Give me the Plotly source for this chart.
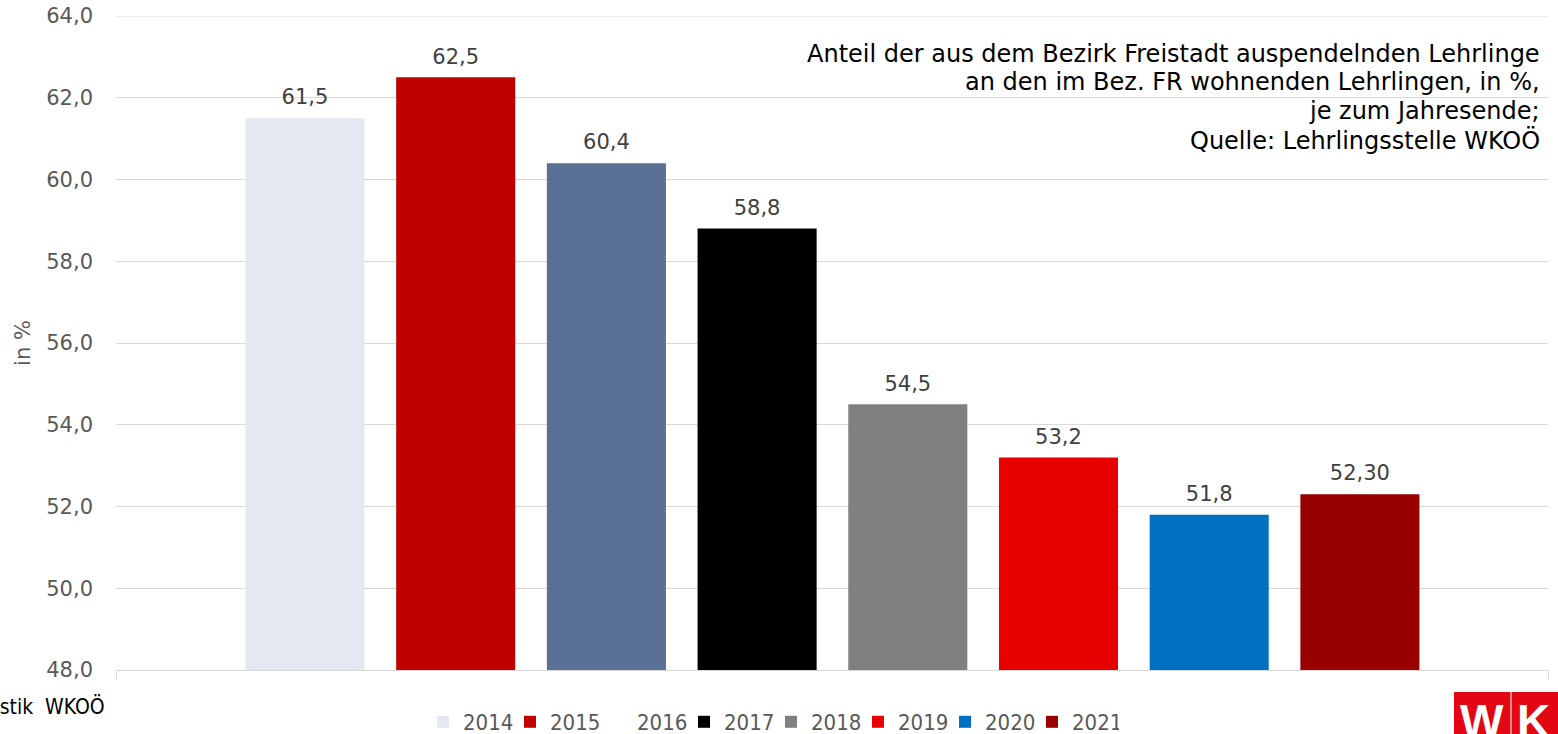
import plotly.graph_objects as go

# ---- data ----
years = ["2014", "2015", "2016", "2017", "2018", "2019", "2020", "2021"]
values = [61.5, 62.5, 60.4, 58.8, 54.5, 53.2, 51.8, 52.30]
labels = ["61,5", "62,5", "60,4", "58,8", "54,5", "53,2", "51,8", "52,30"]
colors = ["#E4E8F0", "#C00000", "#5A7094", "#000000", "#808080", "#E60000", "#0070C0", "#990000"]
legend_swatch = [True, True, False, True, True, True, True, True]
y_ticks = [48, 50, 52, 54, 56, 58, 60, 62, 64]
title_lines = [
    "Anteil der aus dem Bezirk Freistadt auspendelnden Lehrlinge",
    "an den im Bez. FR wohnenden Lehrlingen, in %,",
    "je zum Jahresende;",
    "Quelle: Lehrlingsstelle WKOÖ",
]

W, H = 1558, 734
# plot area in window pixels: x 116..1548, y 16..670
PL, PR, PT, PB = 116, 1548, 16, 670
ML, MR, MT, MB = PL, W - PR, PT, H - PB
PW = PR - PL
PH = PB - PT

def px_x(px):  # window pixel -> paper
    return (px - PL) / PW

def px_y(py):
    return (PB - py) / PH

FONT = "DejaVu Sans"
GREY = "#595959"
GRID = "#D9D9D9"
slots = list(range(len(years)))
SLOT_PX = 150.7
x_lo = -(305 - PL) / SLOT_PX
x_hi = x_lo + PW / SLOT_PX

fig = go.Figure()
for i, yr, v, col, sw in zip(slots, years, values, colors, legend_swatch):
    fig.add_trace(go.Bar(
        x=[i], y=[v], name=yr, width=0.79,
        marker=dict(color=col, line=dict(width=0)),
        showlegend=sw,
    ))
    if not sw:
        fig.add_trace(go.Scatter(
            x=[None], y=[None], name=yr, mode="markers",
            marker=dict(color="rgba(0,0,0,0)", symbol="square"),
            showlegend=True,
        ))

fig.add_trace(go.Scatter(
    x=slots, y=values, text=labels, mode="markers+text",
    textposition="top center", cliponaxis=False,
    marker=dict(size=12, color="rgba(0,0,0,0)"),
    textfont=dict(family=FONT, size=21, color="#404040"),
    showlegend=False, hoverinfo="skip",
))

annotations = []
for line, cy in zip(title_lines, [54, 82, 111, 140]):
    annotations.append(dict(
        text=line, xref="paper", yref="paper", x=px_x(1542), y=px_y(cy),
        xanchor="right", yanchor="middle", align="right", showarrow=False,
        font=dict(family=FONT, size=24, color="#000000"),
    ))
annotations += [
    dict(
        text="Statistik  WKOÖ",
        xref="paper", yref="paper", x=px_x(107), y=px_y(706),
        xanchor="right", yanchor="middle", showarrow=False,
        font=dict(family="DejaVu Sans Condensed, DejaVu Sans", size=21, color="#000000"),
    ),
    dict(
        text="<b>W</b>", xref="paper", yref="paper", x=px_x(1482), y=px_y(721),
        xanchor="center", yanchor="middle", showarrow=False,
        font=dict(family="Liberation Sans", size=46, color="white"),
    ),
    dict(
        text="<b>K</b>", xref="paper", yref="paper", x=px_x(1533), y=px_y(721),
        xanchor="center", yanchor="middle", showarrow=False,
        font=dict(family="Liberation Sans", size=46, color="white"),
    ),
]

fig.update_layout(
    width=W, height=H,
    margin=dict(l=ML, r=MR, t=MT, b=MB, autoexpand=False),
    paper_bgcolor="white", plot_bgcolor="white",
    barmode="overlay",
    separators=",.",
    font=dict(family=FONT, size=20, color=GREY),
    showlegend=True,
    legend=dict(
        orientation="h", x=px_x(423), xanchor="left", y=px_y(722), yanchor="middle",
        font=dict(family="DejaVu Sans Condensed, DejaVu Sans", size=22, color=GREY),
        itemwidth=30, tracegroupgap=0, entrywidth=42, entrywidthmode="pixels",
        bgcolor="rgba(0,0,0,0)",
    ),
    xaxis=dict(
        range=[x_lo, x_hi], tickvals=[x_lo, x_hi],
        showticklabels=False, showgrid=False, zeroline=False,
        showline=True, linecolor=GRID, linewidth=1,
        ticks="outside", ticklen=9, tickcolor=GRID,
    ),
    yaxis=dict(
        range=[48, 64], tickvals=y_ticks, tickformat=".1f",
        showgrid=True, gridcolor=GRID, gridwidth=1,
        zeroline=False, showline=False,
        ticks="", ticklabelstandoff=22,
        tickfont=dict(family=FONT, size=21, color=GREY),
        title=dict(text="in %", font=dict(family=FONT, size=21, color=GREY), standoff=9),
    ),
    annotations=annotations,
    shapes=[
        # top gridline (plotly skips the grid line at the range edge)
        dict(type="line", xref="paper", yref="y", x0=0, x1=1,
             y0=y_ticks[-1], y1=y_ticks[-1], line=dict(color=GRID, width=1), layer="below"),
        dict(type="rect", xref="paper", yref="paper",
             x0=px_x(1454), x1=px_x(1560), y0=px_y(692), y1=px_y(736),
             fillcolor="#E30613", line=dict(width=0), layer="below"),
        dict(type="line", xref="paper", yref="paper",
             x0=px_x(1511), x1=px_x(1511), y0=px_y(692), y1=px_y(736),
             line=dict(color="#F3B0B0", width=1.5)),
    ],
)

fig.write_html(
    "out.html",
    config={"displayModeBar": False},
    post_script="document.body.style.margin='0';document.body.style.overflow='hidden';",
)
